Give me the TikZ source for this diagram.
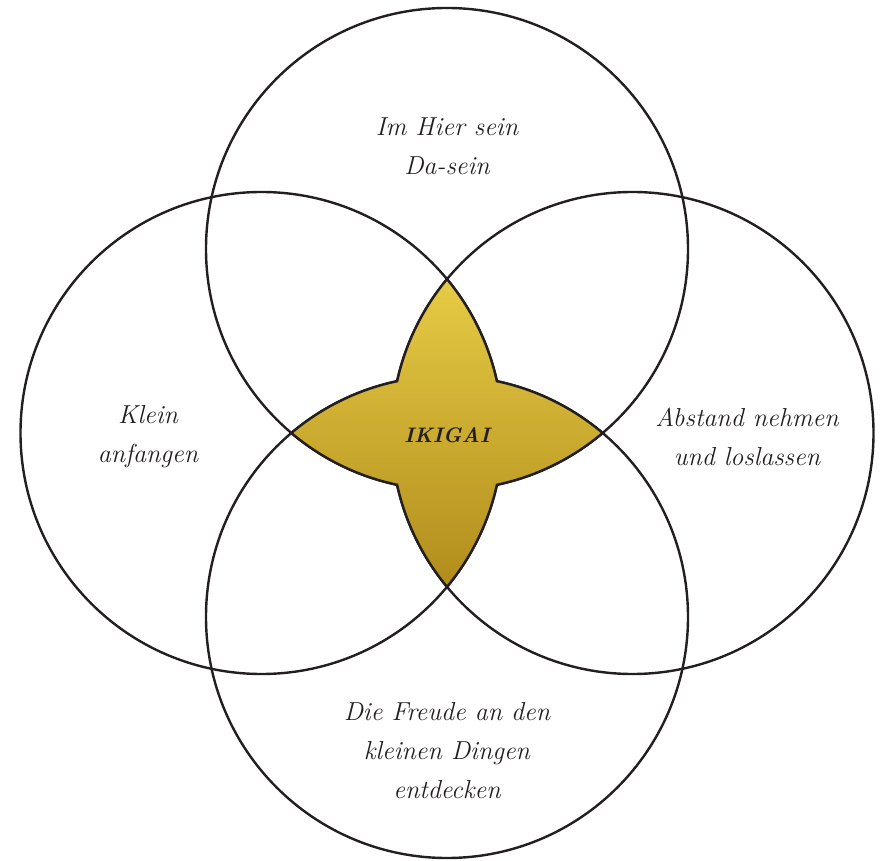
\documentclass[tikz,border=0pt]{standalone}
\usepackage{tikz}
\usetikzlibrary{positioning}
\definecolor{goldlt}{HTML}{E6CB45}
\definecolor{goldmd}{HTML}{D3B12E}
\definecolor{golddk}{HTML}{B18C1B}
\definecolor{inkc}{HTML}{231F20}
\newcommand{\crad}{241}
% one arc of the star outline, on a circle of radius \crad
\newcommand{\sarc}[2]{arc[start angle=#1, end angle=#2, radius=\crad]}

\begin{document}
\begin{tikzpicture}[x=1pt, y=1pt,
  every node/.style={font=\fontsize{26}{39}\selectfont\itshape, text=inkc, align=center},
  ring/.style={draw=inkc, line width=2.4pt}]
\useasboundingbox (0,0) rectangle (883,860);
% circle centres
\coordinate (ctop) at (447,611);
\coordinate (cbot) at (447,243);
\coordinate (clft) at (261.5,427);
\coordinate (crgt) at (632.5,427);
% tip of the star (left and right circle meet)
\coordinate (stip) at (447,580.85);
% circles
\foreach \c in {ctop,cbot,clft,crgt}
  \draw[ring] (\c) circle (\crad);
% golden star
\shadedraw[ring, top color=goldlt, middle color=goldmd, bottom color=golddk]
  (stip) \sarc{140.33}{167.59} \sarc{101.94}{130.23}
  \sarc{229.77}{258.06} \sarc{192.41}{219.67}
  \sarc{320.33}{347.59} \sarc{281.94}{310.23}
  \sarc{49.77}{78.06} \sarc{12.41}{39.67} -- cycle;
% labels
\node (ttop) at (447,714) {Im Hier sein\\Da-sein};
\node (tlft) at (148,423) {Klein\\anfangen};
\node (trgt) at (747,423) {Abstand nehmen\\und loslassen};
\node (tbot) at (447,109) {Die Freude an den\\kleinen Dingen\\entdecken};
\node[font=\fontsize{21}{25}\selectfont\bfseries\itshape] (tiki) at (447,425) {IKIGAI};
\end{tikzpicture}
\end{document}
